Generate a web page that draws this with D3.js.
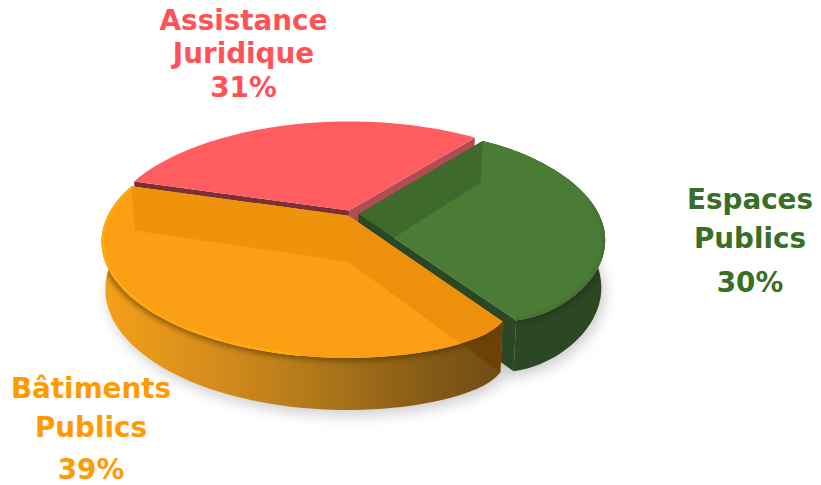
<!DOCTYPE html>
<html><head><meta charset="utf-8">
<script src="https://cdn.jsdelivr.net/npm/d3@7/dist/d3.min.js"></script>
<style>html,body{margin:0;background:#fff}svg{display:block}text{font-family:"DejaVu Sans";font-weight:700;text-anchor:middle}</style>
</head><body><svg id="c" width="821" height="485"></svg>
<script>
const categories = ["Assistance Juridique","Espaces Publics","Bâtiments Publics"];
const shares = [31,30,39];
const labelLines = [["Assistance","Juridique","31%"],["Espaces","Publics","30%"],["Bâtiments","Publics","39%"]];
const topColors = ["#ff5d60","#4a7c35","#fb9f14"];
const textColors = ["#ff5257","#376f26","#ff9a00"];
const wallColors = ["#7a3035","#2c4724","#e89410"];
const explode = [0.034,0.03,0.02];
const cornerStart = [0,0.012,0.05];
const cornerEnd = [0,0.04,0];
const labelX = [243.5,750,91];
const labelY = [[30,63,97],[209,248,292],[398,437,479]];

const W=821,H=485,cx=351.5,cy=214,a=240,b=110,k=0.22;
const svg=d3.select("#c"),defs=svg.append("defs");
const blur=(id,s)=>defs.append("filter").attr("id",id).attr("x","-20%").attr("y","-20%").attr("width","140%").attr("height","140%").append("feGaussianBlur").attr("stdDeviation",s);
blur("b8",7);blur("b2",2.5);blur("b1",1);

const sx=d3.scaleLinear().domain([-1,1]).range([cx-a,cx+a]);
const proj=(u,v,d)=>{const w=1-k*v,x=u/w,y=v/w;
  const dep=d?46+6*v:0,sh=d?0.985:1;
  return [cx+(sx(x)-cx)*sh,cy+b*y+dep];};
const pie=d3.pie().sort(null).startAngle(286.5*Math.PI/180).endAngle(646.5*Math.PI/180);
const arcs=pie(shares);
const line=d3.line();
const close=p=>line(p)+"Z";
const round=Math.PI/180*6;
const slices=arcs.map((s,i)=>{
  const m=(s.startAngle+s.endAngle)/2,e=explode[i],ou=e*Math.sin(m),ov=-e*Math.cos(m);
  const P=(ang,r,d)=>proj(ou+r*Math.sin(ang),ov-r*Math.cos(ang),d);
  const angs=d3.range(0,73).map(t=>s.startAngle+(s.endAngle-s.startAngle)*t/72);
  const R=t=>1-cornerStart[i]*Math.exp(-(t-s.startAngle)/round)-cornerEnd[i]*Math.exp(-(s.endAngle-t)/round);
  return {i,s,P,angs,
    outerTop:angs.map(t=>P(t,R(t),0)),outerBot:angs.map(t=>P(t,R(t),1)),
    apexT:P(0,0,0),apexB:P(0,0,1)};
});
const panel=(A,B,C,D)=>close([A,B,C,D]);
const topPath=s=>close([s.apexT,...s.outerTop]);
const startWall=s=>panel(s.apexT,s.outerTop[0],s.outerBot[0],s.apexB);
const endWall=s=>panel(s.apexT,s.outerTop[72],s.outerBot[72],s.apexB);

// ground shadow
const shadow=[...slices[1].outerBot,...slices[2].outerBot.slice(0,60)];
svg.append("path").attr("d",close(shadow.map(p=>[p[0]+3,p[1]+5]))).attr("fill","#9a9a9a").attr("opacity",.5).attr("filter","url(#b8)");

// horizontal wall gradient
const g=defs.append("linearGradient").attr("id","wall").attr("gradientUnits","userSpaceOnUse").attr("x1",105).attr("x2",510).attr("y1",0).attr("y2",0);
[[0,"#f3a01a"],[.3,"#d28a1c"],[.55,"#ab7519"],[.8,"#855a17"],[1,"#6e4a14"]].forEach(d=>g.append("stop").attr("offset",d[0]).attr("stop-color",d[1]));

const outerWall=s=>close([...s.outerTop,...s.outerBot.slice().reverse()]);
slices.forEach(s=>{
  defs.append("clipPath").attr("id","clip"+s.i).append("path").attr("d",topPath(s));
  defs.append("clipPath").attr("id","wallclip"+s.i).append("path").attr("d",outerWall(s));
});

[0,1,2].forEach(i=>{
  const s=slices[i],G=svg.append("g");
  G.append("path").attr("d",startWall(s)).attr("fill",wallColors[i]);
  G.append("path").attr("d",endWall(s)).attr("fill",i==0?"#b34c52":wallColors[i]);
  if(i>0){
    G.append("path").attr("d",outerWall(s)).attr("fill",i==2?"url(#wall)":wallColors[i]);
    G.append("g").attr("clip-path",`url(#wallclip${i})`).append("path").attr("d",line(s.outerTop)).attr("fill","none").attr("stroke",i==2?"#4a2c00":"#1c2f16").attr("stroke-width",7).attr("opacity",.5).attr("filter","url(#b2)");
  }
  G.append("path").attr("d",topPath(s)).attr("fill",topColors[i]);
});
// warm highlight along the left front rim of the large slice
const o=slices[2];
svg.append("g").attr("clip-path","url(#clip2)").append("path").attr("d",line(o.outerTop.slice(22))).attr("fill","none").attr("stroke","#ffb30e").attr("stroke-width",4).attr("opacity",.8).attr("filter","url(#b1)");
// soft edge on the green rim
svg.append("g").attr("clip-path","url(#clip1)").append("path").attr("d",line(slices[1].outerTop.slice(30))).attr("fill","none").attr("stroke","#437030").attr("stroke-width",6).attr("opacity",.6).attr("filter","url(#b1)");

// back walls seen through the translucent tops
const ghost=(d,clip,op,col)=>{const n=svg.append("path").attr("d",d).attr("fill",col).attr("opacity",op);if(clip)n.attr("clip-path",`url(#${clip})`);};
const S=slices;
defs.append("clipPath").attr("id","orangeAll").call(c=>{c.append("path").attr("d",topPath(S[2]));c.append("path").attr("d",outerWall(S[2]));});
ghost(panel(S[2].apexT,S[2].outerTop[72],S[2].outerBot[72],S[2].apexB),"orangeAll",.32,"#d87800");
ghost(panel(S[2].apexT,S[2].outerTop[0],S[2].outerBot[0],S[2].apexB),"orangeAll",.38,"#d87800");
ghost(panel(S[1].apexT,S[1].outerTop[0],S[1].outerBot[0],S[1].apexB),"clip1",.14,"#000");
svg.append("g").attr("clip-path","url(#wallclip2)").append("path").attr("d",panel(S[2].apexT,S[2].outerTop[0],S[2].outerBot[0],S[2].apexB)).attr("fill","#3a2000").attr("opacity",.45);

labelLines.forEach((L,i)=>{
  L.forEach((t,j)=>svg.append("text").attr("x",labelX[i]).attr("y",labelY[i][j]).attr("font-size",27.8).attr("fill",textColors[i]).text(t));
});
</script></body></html>
